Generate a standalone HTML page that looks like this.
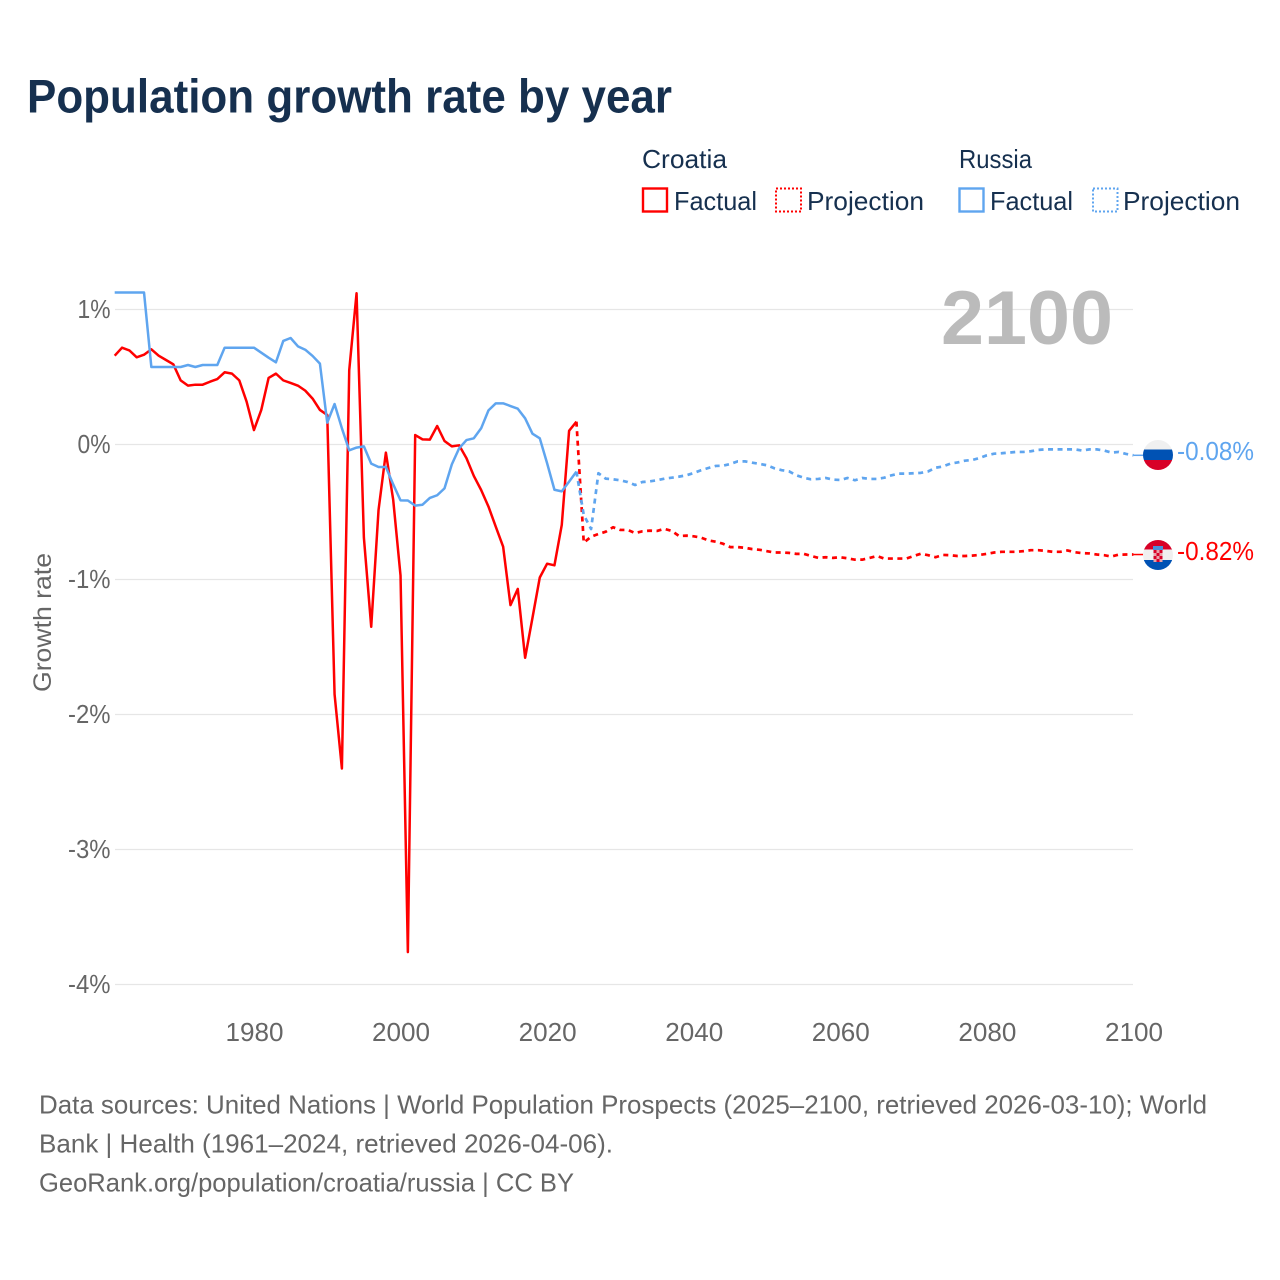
<!DOCTYPE html>
<html lang="en">
<head>
<meta charset="utf-8">
<title>Population growth rate by year</title>
<style>
html,body{margin:0;padding:0;background:#fff;width:1280px;height:1280px;overflow:hidden}
svg{display:block}
text{font-family:"Liberation Sans",sans-serif}
</style>
</head>
<body>
<svg id="chart" xmlns="http://www.w3.org/2000/svg" width="1280" height="1280" viewBox="0 0 1280 1280">
  <rect x="0" y="0" width="1280" height="1280" fill="#fff"/>
  <defs>
    <clipPath id="clip-ru"><circle cx="1158" cy="455" r="15"/></clipPath>
    <clipPath id="clip-hr"><circle cx="1158" cy="555" r="15"/></clipPath>
  </defs>

  <text x="27" y="112.5" font-size="47" font-weight="700" fill="#16304f" textLength="645" lengthAdjust="spacingAndGlyphs">Population growth rate by year</text>

  <g font-size="26" fill="#16304f">
    <text x="642" y="168" textLength="85" lengthAdjust="spacingAndGlyphs">Croatia</text>
    <text x="959" y="168" textLength="73" lengthAdjust="spacingAndGlyphs">Russia</text>
    <g>
      <rect x="643" y="188.500" width="24" height="23" fill="none" stroke="#ff0000" stroke-width="2.4"/>
      <text x="674" y="210" textLength="83" lengthAdjust="spacingAndGlyphs">Factual</text>
    </g>
    <g>
      <rect x="776" y="188.500" width="25" height="23" fill="none" stroke="#ff0000" stroke-width="2" stroke-dasharray="2,2"/>
      <text x="807" y="210" textLength="117" lengthAdjust="spacingAndGlyphs">Projection</text>
    </g>
    <g>
      <rect x="959.500" y="188.500" width="24" height="23" fill="none" stroke="#5fa5ef" stroke-width="2.4"/>
      <text x="990" y="210" textLength="83" lengthAdjust="spacingAndGlyphs">Factual</text>
    </g>
    <g>
      <rect x="1093" y="188.500" width="24.500" height="23" fill="none" stroke="#5fa5ef" stroke-width="2" stroke-dasharray="2,2"/>
      <text x="1123" y="210" textLength="117" lengthAdjust="spacingAndGlyphs">Projection</text>
    </g>
  </g>

  <g id="grid"></g>
  <g id="y-ticks"></g>
  <g id="x-ticks"></g>

  <text transform="translate(51 692) rotate(-90)" x="0" y="0" font-size="25" fill="#666" textLength="139" lengthAdjust="spacingAndGlyphs">Growth rate</text>

  <text x="941" y="344" font-size="76" font-weight="700" fill="#bbbbbb" textLength="172" lengthAdjust="spacingAndGlyphs">2100</text>

  <g id="series"></g>

  <g clip-path="url(#clip-ru)">
    <rect x="1143" y="440" width="30" height="10" fill="#f0f0f0"/>
    <rect x="1143" y="449.500" width="30" height="10.500" fill="#0052b4"/>
    <rect x="1143" y="460" width="30" height="10" fill="#d80027"/>
  </g>
  <g clip-path="url(#clip-hr)">
    <rect x="1143" y="540" width="30" height="10" fill="#d80027"/>
    <rect x="1143" y="549.500" width="30" height="10.500" fill="#f0f0f0"/>
    <rect x="1143" y="560" width="30" height="10" fill="#0052b4"/>
    <rect x="1153" y="546" width="10" height="4" fill="#4b8fd8"/>
    <rect x="1153.500" y="550" width="9" height="12" fill="#e8a0a8"/>
    <rect x="1153.500" y="550" width="3" height="3" fill="#d80027"/>
    <rect x="1159.500" y="550" width="3" height="3" fill="#d80027"/>
    <rect x="1156.500" y="553" width="3" height="3" fill="#d80027"/>
    <rect x="1153.500" y="556" width="3" height="3" fill="#d80027"/>
    <rect x="1159.500" y="556" width="3" height="3" fill="#d80027"/>
    <rect x="1156.500" y="559" width="3" height="3" fill="#d80027"/>
  </g>

  <text x="1177" y="460" font-size="25.500" fill="#5fa5ef" textLength="77" lengthAdjust="spacingAndGlyphs">-0.08%</text>
  <text x="1177" y="560" font-size="25.500" fill="#ff0000" textLength="77" lengthAdjust="spacingAndGlyphs">-0.82%</text>

  <g font-size="26" fill="#666">
    <text x="39" y="1113.500" textLength="1168" lengthAdjust="spacingAndGlyphs">Data sources: United Nations | World Population Prospects (2025–2100, retrieved 2026-03-10); World</text>
    <text x="39" y="1152.500" textLength="574" lengthAdjust="spacingAndGlyphs">Bank | Health (1961–2024, retrieved 2026-04-06).</text>
    <text x="39" y="1191.500" textLength="535" lengthAdjust="spacingAndGlyphs">GeoRank.org/population/croatia/russia | CC BY</text>
  </g>
</svg>
<script>
const factualStartYear = 1961;
const projectionStartYear = 2024;
const xTickYears = [1980, 2000, 2020, 2040, 2060, 2080, 2100];
const yTickValues = [1, 0, -1, -2, -3, -4];
const yTickLabels = ['1%', '0%', '-1%', '-2%', '-3%', '-4%'];
const croatiaFactual = [
  0.658, 0.717, 0.697, 0.646, 0.665, 0.705, 0.658, 0.626, 0.594, 0.475,
  0.436, 0.443, 0.443, 0.465, 0.485, 0.535, 0.525, 0.475, 0.317, 0.107,
  0.256, 0.493, 0.525, 0.475, 0.456, 0.436, 0.399, 0.340, 0.256, 0.219,
  -1.85, -2.40, 0.55, 1.12, -0.69, -1.35, -0.485, -0.06, -0.41, -0.97,
  -3.76, 0.07, 0.038, 0.036, 0.137, 0.026, -0.014, -0.006, -0.102, -0.233,
  -0.337, -0.46, -0.61, -0.757, -1.19, -1.07, -1.58, -1.285, -0.985, -0.883,
  -0.895, -0.596, 0.102, 0.169
];
const russiaFactual = [
  1.126, 1.126, 1.126, 1.126, 1.126, 0.574, 0.574, 0.574, 0.574, 0.574,
  0.589, 0.574, 0.589, 0.589, 0.589, 0.717, 0.717, 0.717, 0.717, 0.717,
  0.68, 0.643, 0.609, 0.767, 0.789, 0.727, 0.702, 0.656, 0.599, 0.162,
  0.30, 0.12, -0.043, -0.023, -0.014, -0.142, -0.167, -0.167, -0.295, -0.414,
  -0.415, -0.453, -0.446, -0.396, -0.376, -0.325, -0.147, -0.028, 0.033, 0.046,
  0.12, 0.253, 0.305, 0.305, 0.285, 0.265, 0.194, 0.08, 0.046, -0.139,
  -0.335, -0.347, -0.275, -0.201
];
const croatiaProjection = [
  0.169, -0.727, -0.683, -0.663, -0.646, -0.613, -0.633, -0.633, -0.656, -0.643,
  -0.638, -0.64, -0.625, -0.64, -0.678, -0.675, -0.68, -0.69, -0.71, -0.72,
  -0.735, -0.76, -0.76, -0.765, -0.775, -0.78, -0.79, -0.80, -0.80, -0.803,
  -0.81, -0.81, -0.825, -0.84, -0.835, -0.84, -0.835, -0.843, -0.853, -0.853,
  -0.84, -0.826, -0.845, -0.845, -0.845, -0.845, -0.826, -0.809, -0.82, -0.835,
  -0.818, -0.82, -0.826, -0.826, -0.823, -0.818, -0.81, -0.80, -0.795, -0.795,
  -0.795, -0.79, -0.783, -0.783, -0.788, -0.795, -0.795, -0.785, -0.798, -0.805,
  -0.807, -0.815, -0.82, -0.83, -0.816, -0.815, -0.815
];
const russiaProjection = [
  -0.201, -0.522, -0.626, -0.213, -0.253, -0.258, -0.265, -0.278, -0.30, -0.278,
  -0.273, -0.265, -0.253, -0.246, -0.238, -0.228, -0.211, -0.191, -0.174, -0.159,
  -0.157, -0.144, -0.125, -0.125, -0.135, -0.144, -0.154, -0.176, -0.19, -0.199,
  -0.228, -0.246, -0.258, -0.255, -0.248, -0.26, -0.263, -0.248, -0.265, -0.248,
  -0.255, -0.255, -0.246, -0.228, -0.216, -0.216, -0.213, -0.21, -0.199, -0.172,
  -0.163, -0.142, -0.133, -0.12, -0.115, -0.10, -0.08, -0.068, -0.065, -0.06,
  -0.055, -0.055, -0.05, -0.04, -0.036, -0.036, -0.036, -0.036, -0.036, -0.045,
  -0.036, -0.036, -0.045, -0.06, -0.055, -0.07, -0.08
];

const SVG_NS = 'http://www.w3.org/2000/svg';
const plotLeft = 115;
const plotRight = 1133;
function xScale(year) { return 114.7 + (year - 1961) * 7.329; }
function tickScale(year) { return 115.2 + (year - 1961) * (1134 - 115.2) / (2100 - 1961); }
function yScale(value) { return 444.5 - value * 135; }
function pathFrom(values, startYear) {
  return values.map(function (v, i) {
    return (i ? 'L' : 'M') + xScale(startYear + i).toFixed(2) + ' ' + yScale(v).toFixed(2);
  }).join(' ');
}

const gridGroup = document.getElementById('grid');
const yTickGroup = document.getElementById('y-ticks');
const xTickGroup = document.getElementById('x-ticks');
const seriesGroup = document.getElementById('series');

yTickValues.forEach(function (value, i) {
  const line = document.createElementNS(SVG_NS, 'line');
  
  
  line.setAttribute('x1', plotLeft);
  line.setAttribute('x2', plotRight);
  line.setAttribute('y1', yScale(value));
  line.setAttribute('y2', yScale(value));
  line.setAttribute('stroke', '#e6e6e6');
  line.setAttribute('stroke-width', '1.3');
  gridGroup.appendChild(line);

  const label = document.createElementNS(SVG_NS, 'text');
  
  
  const width = yTickLabels[i].length === 2 ? 33 : 42.5;
  label.setAttribute('x', 110.5 - width);
  label.setAttribute('y', yScale(value) + 8.6);
  label.setAttribute('font-size', '25.5');
  label.setAttribute('fill', '#666');
  label.setAttribute('textLength', width);
  label.setAttribute('lengthAdjust', 'spacingAndGlyphs');
  label.textContent = yTickLabels[i];
  yTickGroup.appendChild(label);
});

xTickYears.forEach(function (year) {
  const label = document.createElementNS(SVG_NS, 'text');
  
  
  label.setAttribute('x', tickScale(year) - 29);
  label.setAttribute('y', 1041);
  label.setAttribute('font-size', '25.5');
  label.setAttribute('fill', '#666');
  label.setAttribute('textLength', '58');
  label.setAttribute('lengthAdjust', 'spacingAndGlyphs');
  label.textContent = String(year);
  xTickGroup.appendChild(label);
});

function drawLine(values, startYear, colour, dashed, name) {
  const path = document.createElementNS(SVG_NS, 'path');
  
  
  path.setAttribute('d', pathFrom(values, startYear));
  path.setAttribute('fill', 'none');
  path.setAttribute('stroke', colour);
  path.setAttribute('stroke-width', dashed ? '2.7' : '2.5');
  path.setAttribute('stroke-linejoin', 'round');
  if (dashed) { path.setAttribute('stroke-dasharray', '5,4.5'); }
  seriesGroup.appendChild(path);
}
function drawConnector(values, colour, name) {
  const last = values[values.length - 1];
  const line = document.createElementNS(SVG_NS, 'line');
  
  
  line.setAttribute('x1', xScale(2100));
  line.setAttribute('x2', 1143);
  line.setAttribute('y1', yScale(last));
  line.setAttribute('y2', yScale(last));
  line.setAttribute('stroke', colour);
  line.setAttribute('stroke-width', '1.5');
  seriesGroup.appendChild(line);
}

drawLine(croatiaProjection, projectionStartYear, '#ff0000', true, 'croatia-projection-line');
drawLine(croatiaFactual, factualStartYear, '#ff0000', false, 'croatia-factual-line');
drawLine(russiaProjection, projectionStartYear, '#5fa5ef', true, 'russia-projection-line');
drawLine(russiaFactual, factualStartYear, '#5fa5ef', false, 'russia-factual-line');
drawConnector(croatiaProjection, '#ff0000', 'croatia-end-connector');
drawConnector(russiaProjection, '#5fa5ef', 'russia-end-connector');
</script>
</body>
</html>
